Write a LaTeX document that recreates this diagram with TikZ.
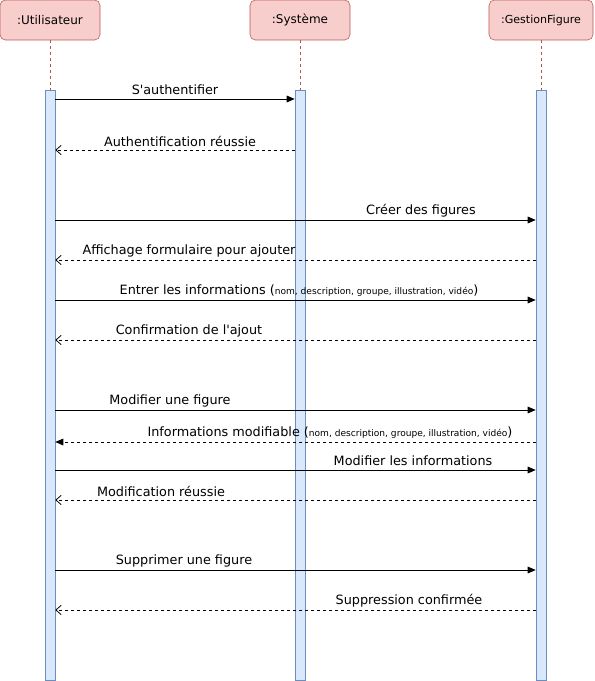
\documentclass[tikz,border=0pt]{standalone}
\usepackage{fontspec}
\setmainfont{DejaVu Sans}
\usetikzlibrary{arrows.meta}

\definecolor{hdrfill}{HTML}{F8CECC}
\definecolor{hdrdraw}{HTML}{B85450}
\definecolor{barfill}{HTML}{DAE8FC}
\definecolor{bardraw}{HTML}{6C8EBF}

\tikzset{
  actor/.style={draw=hdrdraw, fill=hdrfill, rounded corners=4pt, minimum height=30pt, inner sep=0pt, font=\fontsize{9}{10}\selectfont},
  lifeline/.style={draw=hdrdraw, dash pattern=on 2.25pt off 2.25pt, line width=0.5pt},
  activation/.style={draw=bardraw, fill=barfill, minimum width=7.5pt, minimum height=442.5pt, inner sep=0pt},
  call/.style={line width=0.6pt, -{Triangle[length=6pt,width=5pt]}},
  reply/.style={line width=0.6pt, dash pattern=on 2.25pt off 2.25pt, -{Straight Barb[length=4pt,width=7pt]}},
  replyfull/.style={line width=0.6pt, dash pattern=on 2.25pt off 2.25pt, -{Triangle[length=6pt,width=5pt]}},
  lbl/.style={inner sep=1pt, font=\fontsize{9.6}{10}\selectfont},
}
\newcommand{\petit}[1]{{\fontsize{6.8}{7}\selectfont #1}}

\begin{document}
\begin{tikzpicture}[x=0.75pt, y=-0.75pt]
    \useasboundingbox (0,0) rectangle (594,681);

    % Participants
    \node[actor, minimum width=75pt] (u) at (50,20) {:Utilisateur};
    \node[actor, minimum width=78pt, font=\fontsize{8.3}{9}\selectfont] (g) at (541,20) {:GestionFigure};
    \node[actor, minimum width=75pt] (s) at (300,20) {:Système};

    % Activation bars
    \node[activation] (ua) at (50,385) {};
    \node[activation] (sa) at (300,385) {};
    \node[activation] (ga) at (541,385) {};

    % Lifelines
    \draw[lifeline] (u) -- (ua.north);
    \draw[lifeline] (s) -- (sa.north);
    \draw[lifeline] (g) -- (ga.north);

    % Message rows
    \coordinate (r1) at (0,99);
    \coordinate (r2) at (0,150);
    \coordinate (r3) at (0,220);
    \coordinate (r4) at (0,260);
    \coordinate (r5) at (0,300);
    \coordinate (r6) at (0,340);
    \coordinate (r7) at (0,410);
    \coordinate (r8) at (0,442);
    \coordinate (r9) at (0,470);
    \coordinate (r10) at (0,500);
    \coordinate (r11) at (0,570);
    \coordinate (r12) at (0,610);

    % Authentification
    \draw[call] (ua.east |- r1) -- (sa.west |- r1);
    \node[lbl] (m1) at (175,90) {S\textquotesingle authentifier};
    \draw[reply] (sa.west |- r2) -- (ua.east |- r2);
    \node[lbl] (m2) at (180,141) {Authentification réussie};

    % Ajout
    \draw[call] (ua.east |- r3) -- (ga.west |- r3);
    \node[lbl] (m3) at (421,211) {Créer des figures};
    \draw[reply] (ga.west |- r4) -- (ua.east |- r4);
    \node[lbl] (m4) at (189,251) {Affichage formulaire pour ajouter};
    \draw[call] (ua.east |- r5) -- (ga.west |- r5);
    \node[lbl] (m5) at (299,291) {Entrer les informations (\petit{nom, description, groupe, illustration, vidéo})};
    \draw[reply] (ga.west |- r6) -- (ua.east |- r6);
    \node[lbl] (m6) at (189,331) {Confirmation de l\textquotesingle ajout};

    % Modification
    \draw[call] (ua.east |- r7) -- (ga.west |- r7);
    \node[lbl] (m7) at (170,401) {Modifier une figure};
    \draw[replyfull] (ga.west |- r8) -- (ua.east |- r8);
    \node[lbl] (m8) at (330,433) {Informations modifiable (\petit{nom, description, groupe, illustration, vidéo})};
    \draw[call] (ua.east |- r9) -- (ga.west |- r9);
    \node[lbl] (m9) at (413,461) {Modifier les informations};
    \draw[reply] (ga.west |- r10) -- (ua.east |- r10);
    \node[lbl] (m10) at (161,491) {Modification réussie};

    % Suppression
    \draw[call] (ua.east |- r11) -- (ga.west |- r11);
    \node[lbl] (m11) at (184,561) {Supprimer une figure};
    \draw[reply] (ga.west |- r12) -- (ua.east |- r12);
    \node[lbl] (m12) at (409,601) {Suppression confirmée};
\end{tikzpicture}
\end{document}
